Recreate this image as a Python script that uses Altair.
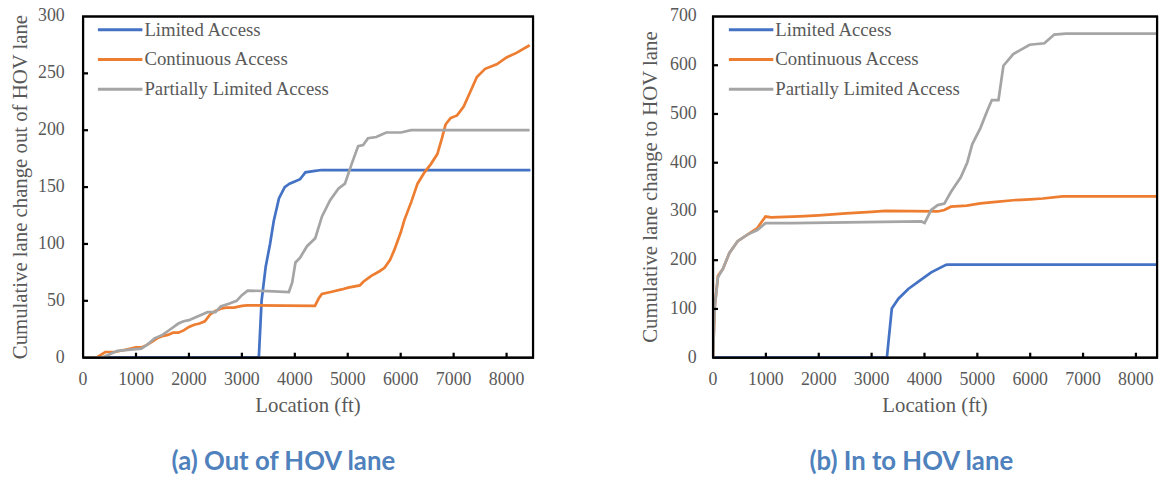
import altair as alt
import pandas as pd

SERIES = ["Limited Access", "Continuous Access", "Partially Limited Access"]
COLORS = ["#4472C4", "#ED7D31", "#A5A5A5"]
X_TICKS = [0, 1000, 2000, 3000, 4000, 5000, 6000, 7000, 8000]
Y_TICKS_OUT = [0, 50, 100, 150, 200, 250, 300]
Y_TICKS_IN = [0, 100, 200, 300, 400, 500, 600, 700]
X_TITLE = "Location (ft)"

# ---- (a) Out of HOV lane ----
OUT_LIMITED_X = [0, 3320, 3372, 3450, 3532, 3601, 3700, 3809, 3900, 4000, 4100, 4150, 4200, 4350, 4500, 8450]
OUT_LIMITED_Y = [0, 0, 50, 80, 100, 120, 140, 150, 153, 155, 157, 160, 163, 164, 165, 165]

OUT_CONT_X = [0, 250, 320, 420, 600, 800, 1000, 1100, 1200, 1300, 1400, 1500, 1600, 1700, 1800,
              1900, 2000, 2100, 2200, 2300, 2400, 2500, 2600, 2700, 2850, 3000, 3100, 4380, 4450,
              4511, 4700, 4885, 5009, 5227, 5300, 5445, 5600, 5695, 5800, 5882, 6000, 6069, 6200,
              6318, 6450, 6567, 6692, 6780, 6847, 6941, 7065, 7190, 7315, 7439, 7595, 7813, 8000,
              8187, 8436]
OUT_CONT_Y = [0, 0, 2, 5, 5, 7, 9, 9, 11, 14, 17, 19, 20, 22, 22,
              24, 27, 29, 30, 32, 38, 41, 43, 44, 44, 45.5, 46, 45.5, 52,
              56, 58, 60, 61.6, 63.5, 67, 72, 76, 79, 86, 95, 110, 121, 137,
              153, 163, 170, 179, 193, 205, 210.7, 213, 220.8, 233.8, 246.8, 254, 258, 264,
              268, 274.7]

OUT_PART_X = [0, 350, 450, 650, 900, 1100, 1200, 1350, 1500, 1650, 1800, 1900, 2000, 2150, 2250,
              2350, 2500, 2600, 2766, 2900, 3000, 3109, 3500, 3888, 3950, 4012, 4100, 4230, 4386,
              4511, 4667, 4822, 4947, 5071, 5196, 5290, 5383, 5539, 5726, 6006, 6193, 8436]
OUT_PART_Y = [0, 0, 2, 6, 7, 8, 11, 17, 20, 25, 30, 32, 33, 36, 38,
              40, 40, 45, 47.6, 50, 55, 59, 58.5, 57.7, 66, 83.7, 88, 98, 105,
              124, 138.5, 148.6, 153, 170, 186, 187, 193, 194, 198, 198, 200, 200]

# ---- (b) In to HOV lane ----
IN_LIMITED_X = [0, 3289, 3382, 3507, 3693, 3911, 4127, 4407, 4450, 8450]
IN_LIMITED_Y = [0, 0, 101, 121, 141, 158, 175, 190.5, 191, 191]

IN_CONT_X = [0, 30, 93, 186, 310, 466, 652, 838, 993, 1100, 1644, 2000, 2514, 3000, 3259, 4251,
             4376, 4500, 4800, 5058, 5300, 5680, 6000, 6238, 6611, 8450]
IN_CONT_Y = [0, 101, 168, 182, 215, 239, 252.5, 266, 289.5, 288, 290, 292, 296, 299, 301, 300,
             303, 309.8, 312, 316.5, 319, 323, 325, 326.6, 331, 331]

IN_PART_X = [0, 30, 93, 186, 310, 466, 652, 838, 993, 1500, 2880, 3941, 4003, 4127, 4251, 4376,
             4500, 4686, 4810, 4903, 5058, 5182, 5275, 5400, 5493, 5680, 5989, 6268, 6455, 6673, 8450]
IN_PART_Y = [0, 101, 165, 182, 215, 239, 252.5, 262, 276, 276, 278, 279.5, 276.5, 303, 313, 316,
             340, 370, 400.6, 437.7, 471, 505, 528.6, 528.6, 599, 623, 642, 645, 663, 665, 665]

SERIF = "Liberation Serif"
GRAY = "#595959"


def build_frame(parts):
    rows = []
    for name, xs, ys in parts:
        assert len(xs) == len(ys), name
        for x, y in zip(xs, ys):
            rows.append({"series": name, "loc": x, "val": y})
    return pd.DataFrame(rows)


def panel(df, ytitle, yticks, xmax, width, height, caption, cap_dx, label_pad, legend_x):
    ymax = yticks[-1]
    xscale = alt.Scale(domain=[0, xmax], nice=False, zero=True)
    yscale = alt.Scale(domain=[0, ymax], nice=False)
    legend = alt.Legend(
        title=None, orient="none", legendX=legend_x, legendY=3,
        symbolType="M-2.5,0H2.5", symbolSize=324, symbolStrokeWidth=3,
        labelFont=SERIF, labelFontSize=19, labelColor=GRAY, labelLimit=500,
        rowPadding=9, labelOffset=14, padding=0,
    )
    lines = alt.Chart(df).mark_line(strokeWidth=2.75, clip=True).encode(
        x=alt.X("loc:Q", scale=xscale, axis=None),
        y=alt.Y("val:Q", scale=yscale, axis=None),
        color=alt.Color("series:N", scale=alt.Scale(domain=SERIES, range=COLORS), legend=legend),
    )
    # plot frame as a closed path through the scale-domain corners
    box = pd.DataFrame({"loc": [0, xmax, xmax, 0, 0], "val": [0, 0, ymax, ymax, 0],
                        "i": [0, 1, 2, 3, 4]})
    frame = alt.Chart(box).mark_line(color="#000000", strokeWidth=2.25).encode(
        x=alt.X("loc:Q", scale=xscale, axis=None),
        y=alt.Y("val:Q", scale=yscale, axis=None),
        order="i:Q")
    # inward tick marks (5 px long) as short paths at the tick values
    dy = ymax * 5.0 / height
    dx = xmax * 5.0 / width
    xrows, yrows = [], []
    for v in X_TICKS[1:]:
        xrows += [{"loc": v, "val": 0, "k": v}, {"loc": v, "val": dy, "k": v}]
    for v in yticks[1:-1]:
        yrows += [{"loc": 0, "val": v, "k": v}, {"loc": dx, "val": v, "k": v}]
    xt = alt.Chart(pd.DataFrame(xrows)).mark_line(color="#000000", strokeWidth=2.25).encode(
        x=alt.X("loc:Q", scale=xscale, axis=None),
        y=alt.Y("val:Q", scale=yscale, axis=None), detail="k:N")
    yt = alt.Chart(pd.DataFrame(yrows)).mark_line(color="#000000", strokeWidth=2.25).encode(
        x=alt.X("loc:Q", scale=xscale, axis=None),
        y=alt.Y("val:Q", scale=yscale, axis=None), detail="k:N")
    xdf = pd.DataFrame({"loc": X_TICKS, "lab": [str(v) for v in X_TICKS]})
    ydf = pd.DataFrame({"val": yticks, "lab": [str(v) for v in yticks]})
    xl = alt.Chart(xdf).mark_text(font=SERIF, fontSize=18, color=GRAY, baseline="middle",
                                  align="center").encode(
        x=alt.X("loc:Q", scale=xscale, axis=None), y=alt.value(height + 23), text="lab:N")
    yl = alt.Chart(ydf).mark_text(font=SERIF, fontSize=18, color=GRAY, baseline="middle",
                                  align="right").encode(
        y=alt.Y("val:Q", scale=yscale, axis=None), x=alt.value(-label_pad), text="lab:N")
    xtl = alt.Chart(pd.DataFrame({"t": [X_TITLE]})).mark_text(
        font=SERIF, fontSize=21, color=GRAY, baseline="middle", align="center").encode(
        x=alt.value(width / 2), y=alt.value(height + 49), text="t:N")
    ytl = alt.Chart(pd.DataFrame({"t": [ytitle]})).mark_text(
        font=SERIF, fontSize=21, color=GRAY, baseline="alphabetic", align="center",
        angle=270).encode(
        x=alt.value(-57), y=alt.value(height / 2), text="t:N")
    return alt.layer(lines, frame, xt, yt, xl, yl, xtl, ytl).properties(
        width=width, height=height,
        title=alt.TitleParams(
            caption, orient="bottom", anchor="middle", frame="group", font="Lato",
            fontSize=26, fontWeight="bold", color="#4F81BD", offset=34, dx=cap_dx),
    )


df_out = build_frame([
    (SERIES[0], OUT_LIMITED_X, OUT_LIMITED_Y),
    (SERIES[1], OUT_CONT_X, OUT_CONT_Y),
    (SERIES[2], OUT_PART_X, OUT_PART_Y),
])
df_in = build_frame([
    (SERIES[0], IN_LIMITED_X, IN_LIMITED_Y),
    (SERIES[1], IN_CONT_X, IN_CONT_Y),
    (SERIES[2], IN_PART_X, IN_PART_Y),
])

left = panel(df_out, "Cumulative lane change out of HOV lane", Y_TICKS_OUT, 8500, 455, 345,
             "(a) Out of HOV lane", -25, 18.5, 27)
right = panel(df_in, "Cumulative lane change to HOV lane", Y_TICKS_IN, 8400, 449, 345,
              "(b) In to HOV lane", -24, 16.5, 28)

chart = alt.hconcat(left, right, spacing=100).resolve_scale(color="independent").configure_view(
    stroke="#000000", strokeWidth=2
).properties(
    background="white",
    padding={"left": 8, "top": 4, "right": 0, "bottom": 0},
)

chart.save("out.html", embed_options={"renderer": "svg", "actions": False})
